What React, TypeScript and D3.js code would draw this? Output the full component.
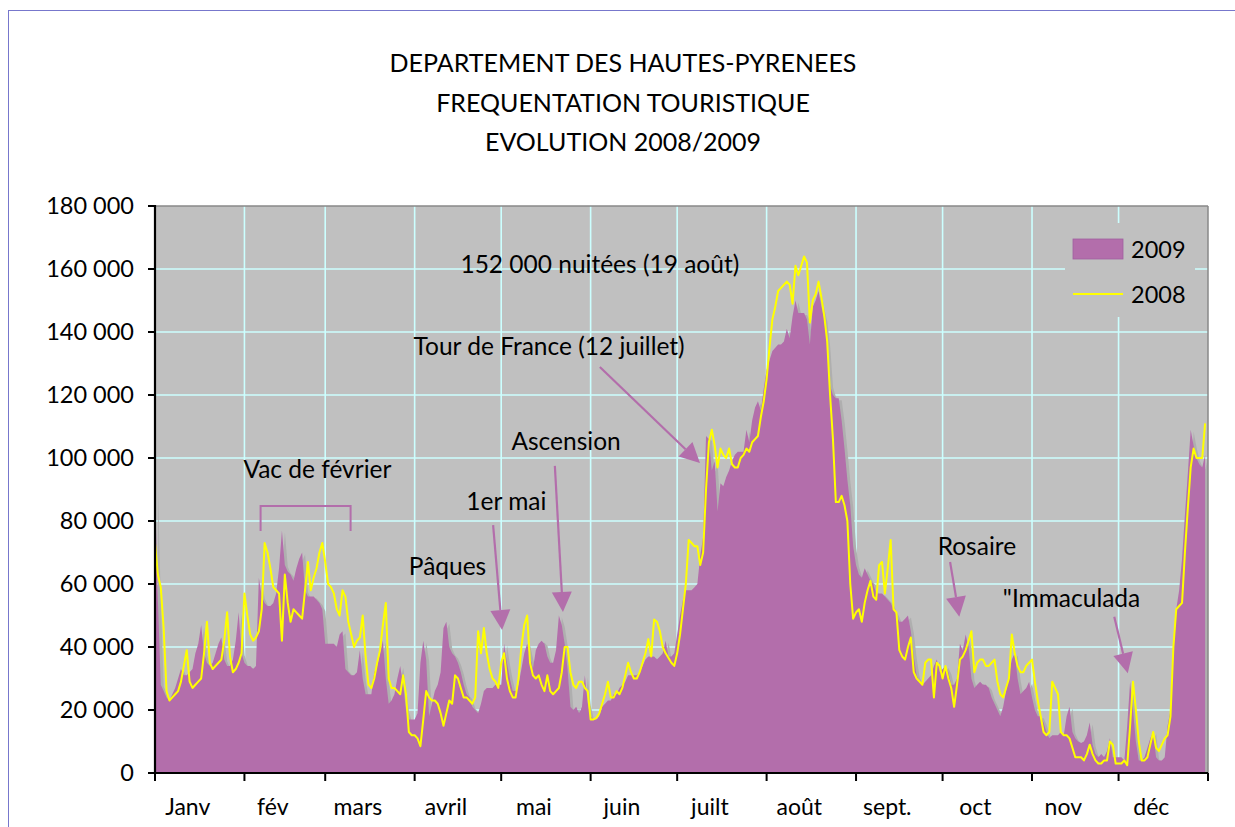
import React from "react";
import * as d3 from "d3";

// ---------- DATA ----------
const TITLE_LINES = [
  "DEPARTEMENT DES HAUTES-PYRENEES",
  "FREQUENTATION TOURISTIQUE",
  "EVOLUTION 2008/2009",
];

const MONTHS = ["Janv", "fév", "mars", "avril", "mai", "juin", "juilt", "août", "sept.", "oct", "nov", "déc"];
const MONTH_DAYS = [31, 28, 31, 30, 31, 30, 31, 31, 30, 31, 30, 31];

const Y_TICKS = [0, 20000, 40000, 60000, 80000, 100000, 120000, 140000, 160000, 180000];
const Y_TICK_LABELS = ["0", "20 000", "40 000", "60 000", "80 000", "100 000", "120 000", "140 000", "160 000", "180 000"];

const SERIES_NAMES = ["2009", "2008"];

// daily overnight stays, in thousands (Jan 1 -> Dec 31)
const NUITEES_2009 = [
  // Jan
  90, 55, 28, 26, 24, 23, 25, 27, 30, 33, 31, 31, 32, 33, 38, 41, 47, 38, 35, 34, 35, 38, 41, 43, 36, 34, 34, 36, 42, 51, 38,
  // Feb
  35, 34, 34, 33, 34, 62, 56, 54, 53, 53, 54, 57, 65, 77, 66, 64, 63, 61, 65, 68, 70, 58, 56, 56, 56, 55, 54, 52,
  // Mar
  41, 41, 41, 41, 40, 44, 45, 33, 32, 31, 31, 32, 39, 30, 25, 25, 25, 32, 34, 38, 42, 30, 22, 23, 25, 30, 34, 28, 20, 17, 17,
  // Apr
  17, 19, 35, 42, 36, 18, 22, 26, 28, 32, 46, 48, 40, 38, 37, 35, 32, 28, 25, 24, 21, 20, 19, 22, 26, 27, 27, 27, 28, 28,
  // May
  28, 41, 35, 30, 26, 26, 28, 33, 38, 41, 37, 33, 39, 41, 42, 41, 37, 35, 35, 39, 50, 47, 41, 33, 21, 20, 21, 19, 21, 31, 22,
  // Jun
  18, 17, 17, 18, 21, 22, 23, 23, 25, 25, 27, 28, 29, 31, 31, 31, 31, 32, 34, 36, 37, 37, 37, 36, 37, 38, 42, 37, 37, 38,
  // Jul
  44, 50, 55, 58, 58, 58, 59, 60, 69, 75, 107, 106, 96, 99, 83, 92, 91, 94, 96, 99, 101, 102, 102, 102, 109, 105, 112, 116, 118, 115, 122,
  // Aug
  128, 131, 134, 135, 136, 136, 137, 141, 138, 145, 150, 146, 146, 146, 144, 136, 148, 150, 153, 148, 144, 136, 123, 120, 119, 119, 112, 103, 93, 85, 72,
  // Sep
  66, 63, 62, 65, 63, 61, 60, 57, 57, 57, 56, 55, 54, 52, 50, 48, 48, 49, 50, 45, 37, 31, 29, 28, 29, 30, 31, 34, 36, 32,
  // Oct
  33, 34, 32, 28, 28, 30, 41, 39, 44, 40, 30, 27, 28, 29, 28, 28, 27, 24, 22, 20, 18, 21, 26, 31, 36, 38, 30, 25, 26, 27, 29,
  // Nov
  24, 20, 18, 18, 16, 13, 11, 12, 12, 12, 13, 12, 18, 21, 13, 11, 10, 9.5, 10, 12, 16, 9, 6, 5, 6, 5, 7, 11, 5, 5,
  // Dec
  5, 5, 4, 15, 29, 20, 10, 4, 4, 5, 8, 11, 13, 5, 4, 4, 5, 15, 20, 38, 52, 58, 68, 82, 95, 109, 104, 100, 98, 97, 101,
];

const NUITEES_2008 = [
  // Jan
  73, 63, 59, 46, 26, 23, 24, 25, 26, 29, 34, 39, 29, 27, 28, 29, 30, 38, 48, 35, 33, 34, 35, 36, 42, 51, 37, 32, 33, 35, 38,
  // Feb
  57, 50, 44, 42, 43, 45, 52, 73, 70, 65, 59, 58, 57, 42, 63, 54, 48, 52, 51, 50, 49, 58, 67, 58, 62, 65, 70, 73,
  // Mar
  67, 60, 59, 57, 52, 50, 58, 56, 48, 44, 40, 42, 43, 50, 37, 28, 27, 30, 35, 39, 47, 54, 30, 27, 27, 26, 25, 31, 25, 13, 12,
  // Apr
  12, 11, 8.5, 17, 26, 24, 23, 23, 22, 19, 15, 19, 23, 22, 31, 30, 27, 24, 24, 23, 22, 24, 45, 38, 46, 38, 33, 30, 29, 27,
  // May
  35, 38, 30, 26, 24, 24, 30, 40, 47, 50, 35, 31, 30, 31, 28, 26, 31, 26, 25, 26, 27, 32, 40, 40, 32, 28, 27, 29, 29, 27, 26,
  // Jun
  17, 17, 17.5, 19, 22, 25, 29, 24, 24, 26, 25, 27, 31, 35, 32, 30, 30, 32, 35, 38, 42.5, 37, 48.7, 48, 45, 40, 38, 36.5, 35, 34,
  // Jul
  38, 44, 52, 60, 74, 73, 72, 72, 66, 70, 90, 105, 109, 104, 97, 103, 101, 100, 103, 98, 97, 97, 100, 101, 103, 102, 105, 106, 107, 113, 118,
  // Aug
  125, 135, 144, 148, 153, 154, 155, 156, 155, 149, 161, 158, 161, 164, 162, 143, 150, 152, 156, 151, 145, 137, 120, 106, 86, 86, 88, 85, 80, 60, 49,
  // Sep
  51, 52, 48, 54, 58, 61, 56, 55, 66, 67, 57, 65, 74, 52, 51, 39, 37, 36, 40, 43, 32, 30, 29, 28, 35, 36, 36, 24, 35, 34,
  // Oct
  30, 34, 30, 27, 21, 28, 36, 37, 39, 42, 45, 32, 35, 36, 36, 34, 34, 35, 36, 29, 25, 24, 27, 30, 44, 38, 34, 32, 32, 34, 35,
  // Nov
  36, 29, 23, 18, 13, 12, 13, 29, 27, 25, 13, 12, 12, 11, 8, 5, 5, 5, 4, 6, 9, 6, 4, 3, 3, 4, 4, 10, 9, 3,
  // Dec
  3, 3, 4, 2.5, 15, 29, 20, 10, 4, 4, 5, 9, 13, 8, 7, 9, 11, 12, 18, 40, 52, 53, 54, 70, 84, 97, 103, 100, 100, 100, 111,
];

// annotation texts anchored in data space (day of year, thousands)
const NOTE_TEXTS = [
  "152 000 nuitées (19 août)",
  "Tour de France (12 juillet)",
  "Ascension",
  "1er mai",
  "Pâques",
  "Vac de février",
  "Rosaire",
  "\"Immaculada",
];
const NOTE_DAYS = [154.2, 136.6, 142.5, 121.8, 101.4, 56.3, 284.9, 317.7];
const NOTE_VALUES = [158.6, 132.7, 102.6, 83.5, 62.9, 93.7, 69.2, 52.7];

// arrows: [dayFrom, valueFrom, dayTo, valueTo]
const ARROWS = [
  [154.2, 128.9, 188.9, 98.4],
  [138.6, 97.5, 141.4, 51.1],
  [117.2, 78.7, 120.3, 45.4],
  [275.6, 67.0, 278.8, 49.6],
  [332.5, 49.6, 337.2, 31.7],
];
// bracket for the February holidays: [dayStart, dayEnd, valueTop, valueBottom]
const BRACKET = [36.6, 67.8, 84.8, 76.8];

// ---------- LAYOUT ----------
const W = 1235;
const H = 827;
const PL = 155;
const PR = 1208;
const PT = 206;
const PB = 773;

const PURPLE = "#B36EAB";
const YELLOW = "#FFFF00";
const GRID = "#CCFFFF";
const FONT = "Lato, 'Open Sans', 'DejaVu Sans', sans-serif";

export default function App() {
  const nDays = d3.sum(MONTH_DAYS);
  const x = d3.scaleLinear().domain([0, nDays]).range([PL, PR]);
  const y = d3.scaleLinear().domain([0, 180000]).range([PB, PT]);
  const monthStarts = [0, ...Array.from(d3.cumsum(MONTH_DAYS))];

  const area = d3
    .area<number>()
    .x((_, i) => x(i))
    .y0(y(0))
    .y1((d) => y(d * 1000));
  const line = d3
    .line<number>()
    .x((_, i) => x(i))
    .y((d) => y(d * 1000));

  const areaPath = area(NUITEES_2009) || "";
  const linePath = line(NUITEES_2008) || "";

  const arrowShape = (a: number[]) => {
    const x1 = x(a[0]);
    const y1 = y(a[1] * 1000);
    const x2 = x(a[2]);
    const y2 = y(a[3] * 1000);
    const ang = Math.atan2(y2 - y1, x2 - x1);
    const len = 20;
    const hw = 10;
    const bx = x2 - len * Math.cos(ang);
    const by = y2 - len * Math.sin(ang);
    const px = -Math.sin(ang) * hw;
    const py = Math.cos(ang) * hw;
    return {
      line: [x1, y1, bx, by],
      head: `${x2},${y2} ${bx + px},${by + py} ${bx - px},${by - py}`,
    };
  };

  const legendX = 1065;
  const legendY = 223;

  return (
    <div style={{ position: "absolute", left: 0, top: 0, width: W, height: H, background: "#fff" }}>
      <svg width={W} height={H} style={{ display: "block" }} fontFamily={FONT}>
        <defs>
          <clipPath id="plotClip">
            <rect x={PL} y={PT} width={PR - PL} height={PB - PT} />
          </clipPath>
        </defs>
        <rect x={0} y={0} width={W} height={H} fill="#ffffff" />
        <rect x={8.5} y={10.5} width={W + 20} height={H + 20} fill="none" stroke="#7777CC" strokeWidth={1} />

        {/* title */}
        {TITLE_LINES.map((t, i) => (
          <text key={t} x={623} y={72 + i * 39.5} textAnchor="middle" fontSize={25} fill="#000">
            {t}
          </text>
        ))}

        {/* plot background */}
        <rect x={PL} y={PT} width={PR - PL} height={PB - PT} fill="#C0C0C0" />

        {/* grid */}
        {Y_TICKS.slice(1, -1).map((v) => (
          <line key={"gy" + v} x1={PL} x2={PR} y1={y(v)} y2={y(v)} stroke={GRID} strokeWidth={1.6} />
        ))}
        {monthStarts.slice(1, -1).map((d) => (
          <line key={"gx" + d} x1={x(d)} x2={x(d)} y1={PT} y2={PB} stroke={GRID} strokeWidth={1.6} />
        ))}

        {/* legend box (covers grid) */}
        <rect x={legendX} y={legendY} width={130} height={94} fill="#C0C0C0" />

        {/* data */}
        <g clipPath="url(#plotClip)">
          <path d={areaPath} fill="#AFAFAF" transform="translate(3,2)" />
          <path d={areaPath} fill={PURPLE} />
          <path d={linePath} fill="none" stroke={YELLOW} strokeWidth={2} strokeLinejoin="round" />
        </g>

        {/* plot frame */}
        <line x1={PL} x2={PR} y1={PT} y2={PT} stroke="#888" strokeWidth={1.5} />
        <line x1={PR} x2={PR} y1={PT} y2={PB} stroke="#888" strokeWidth={1.5} />
        <line x1={PL} x2={PL} y1={PT - 1} y2={PB + 1} stroke="#000" strokeWidth={2.2} />
        <line x1={PL - 1} x2={PR} y1={PB} y2={PB} stroke="#000" strokeWidth={2.2} />

        {/* y axis */}
        {Y_TICKS.map((v, i) => (
          <g key={"yt" + v}>
            <line x1={PL - 7} x2={PL} y1={y(v)} y2={y(v)} stroke="#000" strokeWidth={2} />
            <text x={134} y={y(v) + 8} textAnchor="end" fontSize={23.5} fill="#000">
              {Y_TICK_LABELS[i]}
            </text>
          </g>
        ))}

        {/* x axis */}
        {monthStarts.map((d) => (
          <line key={"xt" + d} x1={x(d)} x2={x(d)} y1={PB} y2={PB + 8} stroke="#000" strokeWidth={2} />
        ))}
        {MONTHS.map((m, i) => (
          <text
            key={m}
            x={x(monthStarts[i] + MONTH_DAYS[i] / 2) - 12}
            y={815}
            textAnchor="middle"
            fontSize={23}
            fill="#000"
          >
            {m}
          </text>
        ))}

        {/* annotations */}
        {NOTE_TEXTS.map((t, i) => (
          <text
            key={t}
            x={x(NOTE_DAYS[i])}
            y={y(NOTE_VALUES[i] * 1000)}
            textAnchor="middle"
            fontSize={24.5}
            fill="#000"
          >
            {t}
          </text>
        ))}
        {ARROWS.map((a, i) => {
          const s = arrowShape(a);
          return (
            <g key={"ar" + i}>
              <line x1={s.line[0]} y1={s.line[1]} x2={s.line[2]} y2={s.line[3]} stroke={PURPLE} strokeWidth={2.2} />
              <polygon points={s.head} fill={PURPLE} />
            </g>
          );
        })}
        <path
          d={`M${x(BRACKET[0])},${y(BRACKET[3] * 1000)} V${y(BRACKET[2] * 1000)} H${x(BRACKET[1])} V${y(
            BRACKET[3] * 1000
          )}`}
          fill="none"
          stroke={PURPLE}
          strokeWidth={2}
        />

        {/* legend */}
        <rect x={1073} y={239} width={50} height={20} fill={PURPLE} stroke="#A060A0" strokeWidth={0.8} />
        <text x={1131} y={258} fontSize={23.5} fill="#000">
          {SERIES_NAMES[0]}
        </text>
        <line x1={1073} x2={1123} y1={294} y2={294} stroke={YELLOW} strokeWidth={2} />
        <text x={1131} y={303} fontSize={23.5} fill="#000">
          {SERIES_NAMES[1]}
        </text>
      </svg>
    </div>
  );
}
